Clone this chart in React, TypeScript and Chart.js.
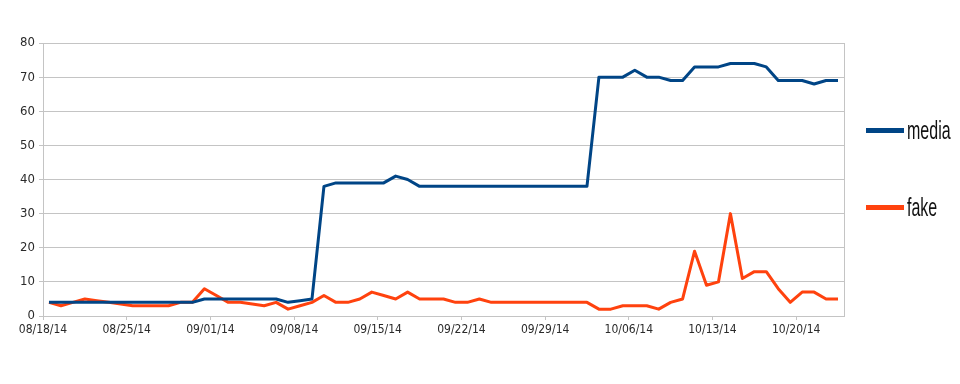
import React, { useEffect, useRef } from "react";
import { Chart, registerables } from "chart.js";

Chart.register(...registerables);

// ---- data ----
const tickLabels = [
  "08/18/14", "08/25/14", "09/01/14", "09/08/14", "09/15/14",
  "09/22/14", "09/29/14", "10/06/14", "10/13/14", "10/20/14",
];
const daysPerTick = 7;
const dayCount = 67; // 08/18/14 .. 10/23/14

const seriesNames = ["media", "fake"];
const seriesColors = ["#004586", "#ff420e"];

const media = [
  4, 4, 4, 4, 4, 4, 4, 4, 4, 4, 4, 4, 4,
  5, 5, 5, 5, 5, 5, 5,
  4, 4.5, 5,
  38, 39, 39, 39, 39, 39, 41, 40,
  38, 38, 38, 38, 38, 38, 38, 38, 38, 38, 38, 38, 38, 38, 38,
  70, 70, 70, 72, 70, 70, 69, 69, 73, 73, 73, 74, 74, 74, 73, 69, 69, 69, 68, 69, 69,
];
const fake = [
  4, 3, 4, 5, 4.5, 4, 3.5, 3, 3, 3, 3, 4, 4, 8, 6, 4, 4, 3.5, 3, 4, 2, 3, 4,
  6, 4, 4, 5, 7, 6, 5, 7, 5, 5, 5, 4, 4, 5, 4, 4, 4, 4, 4, 4, 4, 4, 4,
  2, 2, 3, 3, 3, 2, 4, 5, 19, 9, 10, 30, 11, 13, 13, 8, 4, 7, 7, 5, 5,
];
const yMin = 0;
const yMax = 80;
const yStep = 10;

const FONT = "'DejaVu Sans Condensed', 'Liberation Sans', sans-serif";
const LEGEND_FONT = "'Liberation Sans', Arial, sans-serif";
const GRID = "#c4c4c4";
const TEXT = "#2a2a2a";

const frameBorder = {
  id: "frameBorder",
  beforeDatasetsDraw(chart: any) {
    const { ctx, chartArea } = chart;
    ctx.save();
    ctx.strokeStyle = GRID;
    ctx.lineWidth = 1;
    ctx.beginPath();
    ctx.moveTo(Math.round(chartArea.right) + 0.5, chartArea.top);
    ctx.lineTo(Math.round(chartArea.right) + 0.5, chartArea.bottom);
    ctx.stroke();
    ctx.restore();
  },
};

const sideLegend = {
  id: "sideLegend",
  afterDraw(chart: any) {
    const { ctx } = chart;
    const lineX0 = 866;
    const lineX1 = 904;
    const textX = 907;
    const firstY = 130.5;
    const gap = 77;
    ctx.save();
    chart.data.datasets.forEach((ds: any, i: number) => {
      const y = firstY + i * gap;
      ctx.strokeStyle = ds.borderColor;
      ctx.lineWidth = 5;
      ctx.lineCap = "butt";
      ctx.beginPath();
      ctx.moveTo(lineX0, y);
      ctx.lineTo(lineX1, y);
      ctx.stroke();
      ctx.save();
      ctx.translate(textX, y + 8.5);
      ctx.scale(0.8, 1.3);
      ctx.fillStyle = "#111";
      ctx.font = `20px ${LEGEND_FONT}`;
      ctx.textBaseline = "alphabetic";
      ctx.textAlign = "left";
      ctx.fillText(ds.label, 0, 0);
      ctx.restore();
    });
    ctx.restore();
  },
};

export default function App() {
  const ref = useRef<HTMLCanvasElement | null>(null);

  useEffect(() => {
    document.body.style.margin = "0";
    const canvas = ref.current;
    if (!canvas) return;
    const series = [media, fake];
    const chart = new Chart(canvas, {
      type: "line",
      data: {
        datasets: series.map((vals, s) => ({
          label: seriesNames[s],
          data: vals.map((v, i) => ({ x: i + 0.5, y: v })),
          borderColor: seriesColors[s],
          backgroundColor: seriesColors[s],
          borderWidth: 3,
          pointRadius: 0,
          tension: 0,
          borderJoinStyle: "round" as const,
          fill: false,
        })),
      },
      options: {
        animation: false,
        responsive: false,
        maintainAspectRatio: false,
        events: [],
        layout: { padding: { top: 43, right: 116, bottom: 0, left: 0 } },
        plugins: {
          legend: { display: false },
          tooltip: { enabled: false },
        },
        scales: {
          x: {
            type: "linear",
            min: 0,
            max: dayCount,
            afterBuildTicks: (s: any) => {
              s.ticks = tickLabels.map((_, i) => ({ value: i * daysPerTick }));
            },
            afterFit: (s: any) => {
              s.height = 68;
            },
            ticks: {
              autoSkip: false,
              maxRotation: 0,
              minRotation: 0,
              padding: 3,
              color: TEXT,
              font: { family: FONT, size: 12 },
              callback: (v: any) => tickLabels[Math.round(Number(v) / daysPerTick)] ?? "",
            },
            grid: { drawOnChartArea: false, tickLength: 4, color: GRID },
            border: { color: GRID },
          },
          y: {
            min: yMin,
            max: yMax,
            afterFit: (s: any) => {
              s.width = 43;
            },
            ticks: {
              stepSize: yStep,
              padding: 4,
              color: TEXT,
              font: { family: FONT, size: 13 },
            },
            grid: { color: GRID, tickLength: 4 },
            border: { color: GRID },
          },
        },
      },
      plugins: [frameBorder, sideLegend],
    });
    return () => chart.destroy();
  }, []);

  return (
    <div style={{ position: "absolute", left: 0, top: 0, width: 960, height: 384, background: "#fff" }}>
      <canvas ref={ref} width={960} height={384} />
    </div>
  );
}
